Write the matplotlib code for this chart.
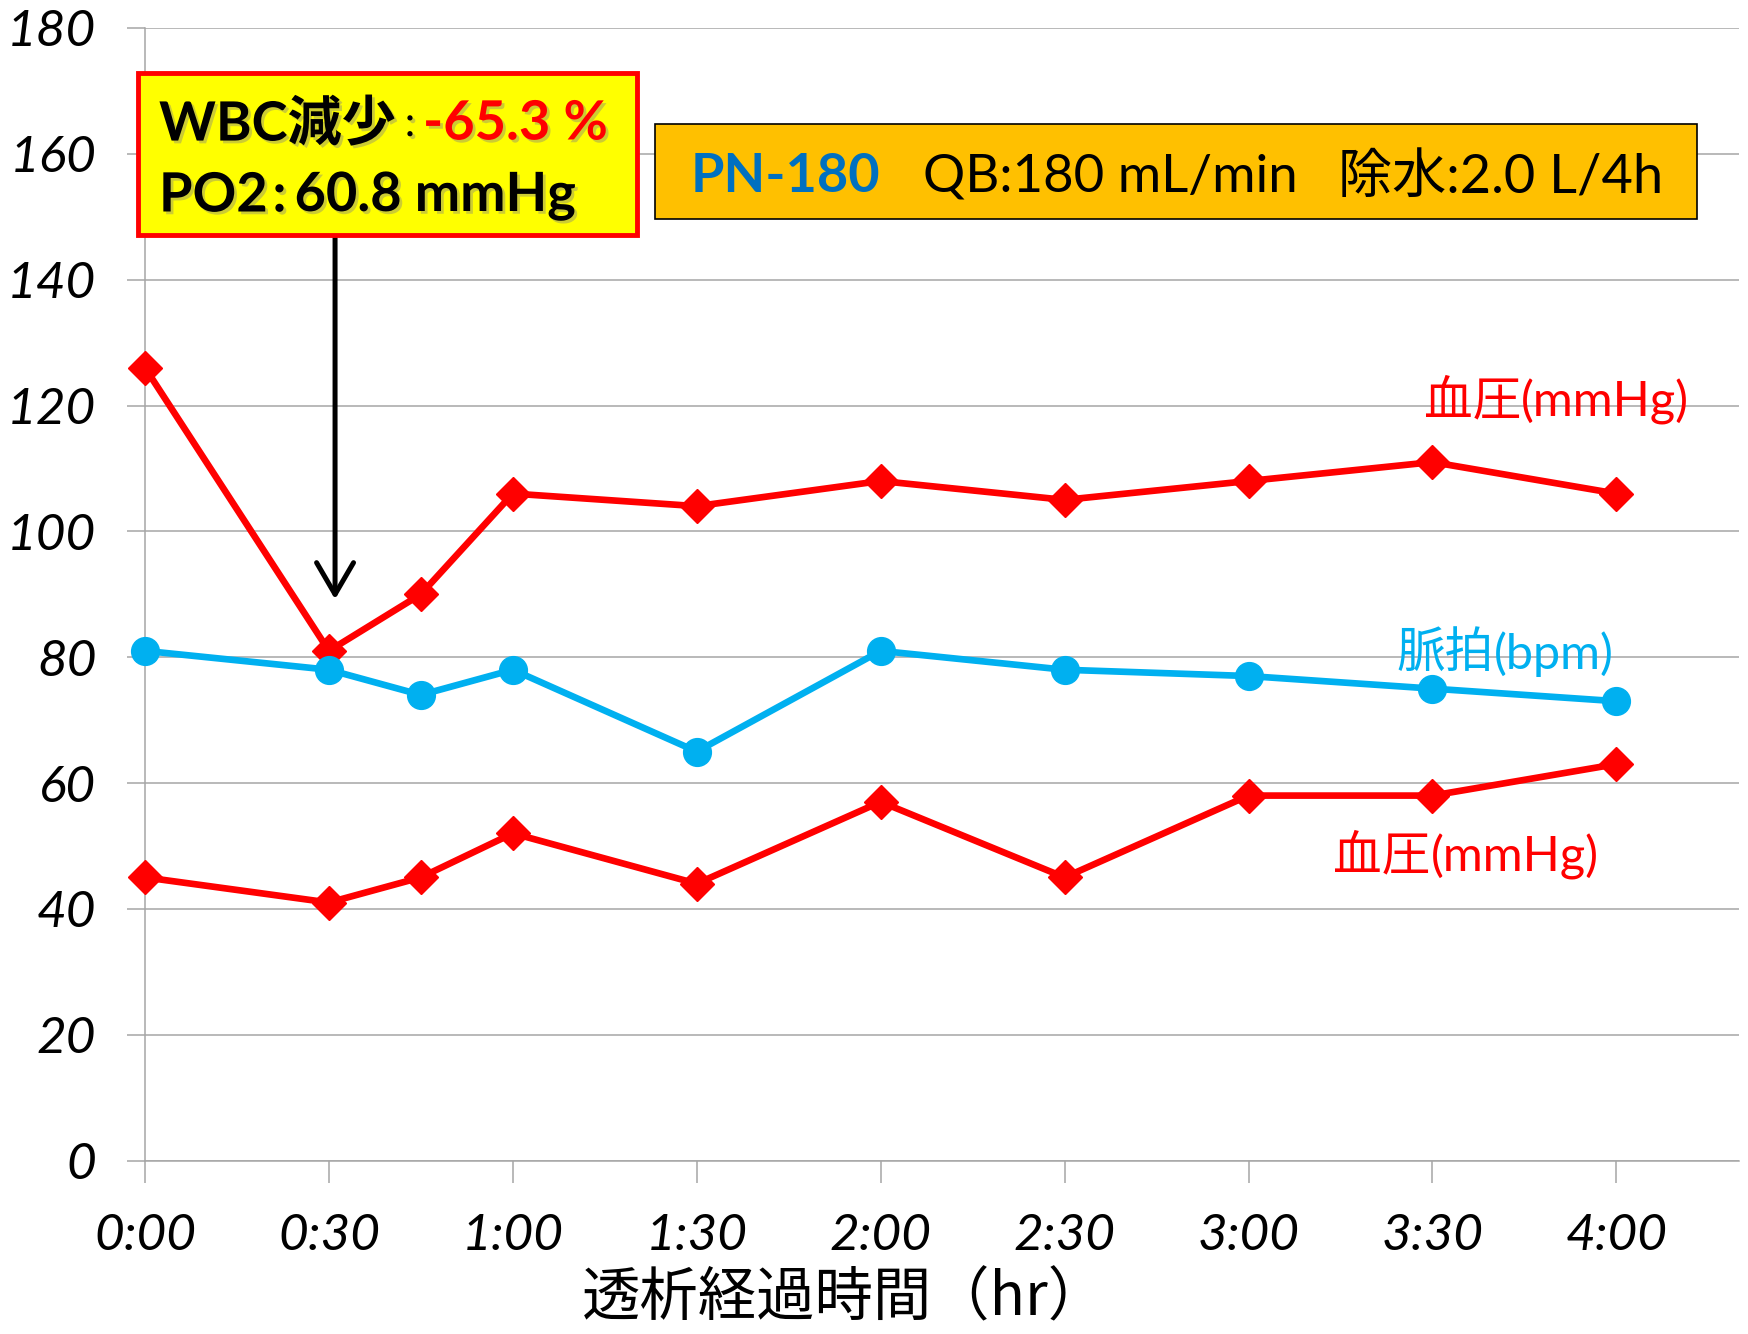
import matplotlib
matplotlib.use("Agg")
import matplotlib.pyplot as plt
from matplotlib.patches import Rectangle
import matplotlib.patheffects as pe

# Elapsed dialysis time in minutes
times = [0, 30, 45, 60, 90, 120, 150, 180, 210, 240]
systolic = [126, 81, 90, 106, 104, 108, 105, 108, 111, 106]
pulse = [81, 78, 74, 78, 65, 81, 78, 77, 75, 73]
diastolic = [45, 41, 45, 52, 44, 57, 45, 58, 58, 63]

tick_minutes = [0, 30, 60, 90, 120, 150, 180, 210, 240]
tick_labels = ["0:00", "0:30", "1:00", "1:30", "2:00", "2:30", "3:00", "3:30", "4:00"]
y_ticks = [0, 20, 40, 60, 80, 100, 120, 140, 160, 180]

RED = "#FF0000"
BLUE = "#00B0F0"
GRID = "#A6A6A6"
CJK = "Noto Sans CJK JP"
LAT = "Lato"

W, H = 1748, 1334
fig = plt.figure(figsize=(W / 100, H / 100), dpi=100)
fig.patch.set_facecolor("white")
ax = fig.add_axes([145 / W, 1 - 1160.5 / H, (1739 - 145) / W, (1160.5 - 28) / H])

ax.plot(times, systolic, color=RED, lw=4.8, marker="D", ms=17, zorder=4, clip_on=False)
ax.plot(times, pulse, color=BLUE, lw=4.8, marker="o", ms=20, zorder=4, clip_on=False)
ax.plot(times, diastolic, color=RED, lw=4.8, marker="D", ms=17, zorder=4, clip_on=False)

ax.set_xlim(0, 260)
ax.set_ylim(0, 180)
ax.set_yticks(y_ticks)
ax.set_yticklabels([str(v) for v in y_ticks], fontfamily=LAT, fontstyle="italic", fontsize=37)
ax.set_xticks(tick_minutes)
ax.set_xticklabels(tick_labels, fontfamily=LAT, fontstyle="italic", fontsize=37)
ax.tick_params(axis="y", direction="out", length=13, width=1.1, color=GRID, pad=22)
ax.tick_params(axis="x", direction="out", length=16, width=1.1, color=GRID, pad=22)
ax.grid(axis="y", color=GRID, lw=1.1, zorder=0)
ax.set_axisbelow(True)
for s in ["top", "right"]:
    ax.spines[s].set_visible(False)
for s in ["left", "bottom"]:
    ax.spines[s].set_color(GRID)
    ax.spines[s].set_linewidth(1.1)


def fx(px):
    return px / W


def fy(py):
    return 1 - py / H


# Axis title
fig.text(fx(844), fy(1299), "透析経過時間（hr）", fontfamily=CJK, fontsize=42,
         ha="center", va="center")


# Series labels
def series_label(x, y, head, tail, color):
    t = ax.text(x, y, head, fontfamily=CJK, fontsize=35, color=color, va="center", zorder=5)
    fig.canvas.draw()
    bb = t.get_window_extent()
    inv = ax.transData.inverted()
    x2 = inv.transform((bb.x1, 0))[0]
    ax.text(x2, y, tail, fontfamily=LAT, fontsize=35, color=color, va="center", zorder=5)


series_label(208.6, 120.6, "血圧", "(mmHg)", RED)
series_label(204.2, 80.5, "脈拍", "(bpm)", BLUE)
series_label(193.8, 48.3, "血圧", "(mmHg)", RED)

shadow = [pe.withSimplePatchShadow(offset=(2, -2), shadow_rgbFace="gray", alpha=0.4)]

# Arrow from the annotation box to the 0:30 reading
ax.annotate("", xy=(31, 89.2), xytext=(31, 146.9),
            arrowprops=dict(arrowstyle="->,head_length=0.6,head_width=0.35", color="black",
                            lw=3.6, mutation_scale=38, shrinkA=0, shrinkB=0),
            zorder=6, annotation_clip=False)

# Yellow annotation box
fig.patches.append(Rectangle((fx(138), fy(235)), fx(637) - fx(138), fy(73) - fy(235),
                             transform=fig.transFigure, facecolor="#FFFF00",
                             edgecolor=RED, lw=3.5, zorder=10))
fig.text(fx(159), fy(124), "WBC減少", fontfamily=[LAT, CJK], fontweight="bold",
         fontsize=39, va="center", ha="left", zorder=11, path_effects=shadow)
fig.text(fx(410), fy(124), ":", fontfamily=LAT, fontsize=30,
         va="center", ha="center", zorder=11, path_effects=shadow)
fig.text(fx(423), fy(124), "-65.3 %", fontfamily=LAT, fontweight="bold", color=RED,
         fontsize=39, va="center", ha="left", zorder=11, path_effects=shadow)

po2 = fig.text(fx(159), fy(196), "PO2", fontfamily=LAT, fontweight="bold",
               fontsize=39, va="center", ha="left", zorder=11, path_effects=shadow)
fig.canvas.draw()
po2_right = po2.get_window_extent().x1
fig.text((po2_right + 12) / W, fy(196), ":", fontfamily=LAT, fontweight="bold", fontsize=39,
         va="center", ha="center", zorder=11, path_effects=shadow)
fig.text((po2_right + 27) / W, fy(196), "60.8 mmHg", fontfamily=LAT, fontweight="bold",
         fontsize=39, va="center", ha="left", zorder=11, path_effects=shadow)

# Orange condition box
fig.patches.append(Rectangle((fx(655), fy(219)), fx(1697) - fx(655), fy(124) - fy(219),
                             transform=fig.transFigure, facecolor="#FFC000",
                             edgecolor="black", lw=1.2, zorder=10))
fig.text(fx(691), fy(177), "PN-180", fontfamily=LAT, fontweight="bold", color="#0070C0",
         fontsize=39, va="center", ha="left", zorder=11)
fig.text(fx(923), fy(177), "QB:180 mL/min", fontfamily=LAT, color="black",
         fontsize=38, va="center", ha="left", zorder=11)
fig.text(fx(1338), fy(177), "除水:2.0 L/4h", fontfamily=[LAT, CJK], color="black",
         fontsize=39, va="center", ha="left", zorder=11)

fig.savefig("out.png", dpi=100, facecolor="white")
